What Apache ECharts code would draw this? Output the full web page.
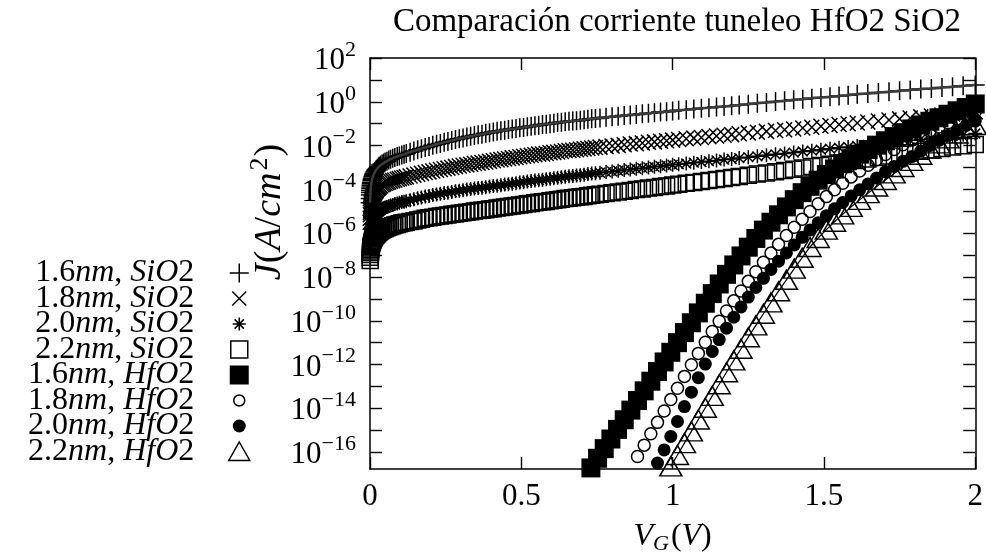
<!DOCTYPE html>
<html>
<head>
<meta charset="utf-8">
<script src="https://cdn.jsdelivr.net/npm/echarts@6/dist/echarts.min.js"></script>
<style>
  html, body { margin: 0; padding: 0; background: #fff; }
  #chart { width: 986px; height: 560px; }
</style>
</head>
<body>
<div id="chart"></div>
<script>
const FONT = '"Liberation Serif", "Times New Roman", serif';

const TITLE = 'Comparación corriente tuneleo HfO2 SiO2';

// Gate voltage sweep of the SiO2 simulations (V)
const V_SiO2 = [0.0005,0.0008,0.0012,0.0016,0.002,0.0025,0.003,0.0036,0.0043,0.005,0.006,0.007,0.008,0.0095,0.011,0.0125,0.014,0.016,0.018,0.02,0.022,0.025,0.028,0.031,0.035,0.04,
  0.045,0.05,0.056,0.062,0.068,0.075,0.082,0.09,0.097,0.105,0.1125,
  0.12,0.1325,0.145,0.1575,0.17,0.1825,0.195,0.2075,0.22,0.2325,0.245,0.2575,0.27,0.2825,0.295,0.3075,0.32,0.3325,0.345,0.3575,0.37,0.3825,0.395,0.4075,0.42,0.4325,0.445,0.4575,0.47,0.4825,0.495,0.5075,0.52,0.5325,0.545,0.5575,0.57,0.5825,0.595,0.6075,0.62,0.6325,0.645,0.6575,0.67,0.6825,0.695,0.7075,0.72,0.7325,0.745,
  0.76,0.78,0.8,0.82,0.84,0.86,0.88,0.9,0.92,0.94,0.96,0.98,1.0,1.02,1.045,1.07,1.095,1.12,1.145,1.17,1.195,
  1.22,1.25,1.28,1.31,1.34,1.37,1.4,1.43,1.46,1.49,1.52,1.55,1.58,1.61,
  1.645,1.68,1.715,1.75,1.785,1.82,1.855,1.89,1.925,1.96,2.0];

// log10 of the tunnelling current density J (A/cm^2), SiO2 oxides
const logJ_SiO2_16 = [-4.61,-4.42,-4.26,-4.14,-4.05,-3.96,-3.89,-3.81,-3.74,-3.68,-3.61,-3.54,-3.49,-3.42,-3.36,-3.31,-3.26,-3.21,-3.16,-3.12,-3.08,-3.03,-2.98,-2.94,-2.89,-2.84,
  -2.8,-2.75,-2.71,-2.66,-2.62,-2.58,-2.54,-2.5,-2.47,-2.43,-2.4,
  -2.36,-2.3,-2.25,-2.19,-2.14,-2.09,-2.04,-1.99,-1.94,-1.9,-1.85,-1.81,-1.77,-1.72,-1.69,-1.65,-1.61,-1.57,-1.54,-1.51,-1.48,-1.44,-1.41,-1.38,-1.35,-1.32,-1.3,-1.27,-1.24,-1.22,-1.19,-1.17,-1.14,-1.12,-1.09,-1.07,-1.04,-1.02,-1.0,-0.98,-0.95,-0.93,-0.91,-0.89,-0.88,-0.86,-0.84,-0.82,-0.8,-0.78,-0.76,
  -0.74,-0.71,-0.68,-0.66,-0.63,-0.6,-0.58,-0.55,-0.52,-0.5,-0.47,-0.45,-0.42,-0.39,-0.36,-0.33,-0.3,-0.27,-0.24,-0.21,-0.18,
  -0.15,-0.11,-0.07,-0.03,0.01,0.05,0.09,0.12,0.16,0.2,0.23,0.27,0.3,0.34,
  0.38,0.42,0.46,0.5,0.54,0.58,0.61,0.65,0.69,0.73,0.77];
const logJ_SiO2_18 = [-5.5,-5.32,-5.16,-5.05,-4.96,-4.87,-4.8,-4.73,-4.66,-4.6,-4.53,-4.47,-4.42,-4.35,-4.3,-4.25,-4.2,-4.15,-4.1,-4.06,-4.02,-3.97,-3.93,-3.89,-3.84,-3.79,
  -3.75,-3.72,-3.69,-3.66,-3.63,-3.6,-3.57,-3.54,-3.51,-3.48,-3.46,
  -3.43,-3.39,-3.35,-3.31,-3.27,-3.23,-3.2,-3.16,-3.13,-3.09,-3.06,-3.03,-3.0,-2.96,-2.93,-2.9,-2.88,-2.85,-2.82,-2.8,-2.77,-2.75,-2.72,-2.69,-2.66,-2.64,-2.61,-2.59,-2.56,-2.54,-2.51,-2.49,-2.46,-2.44,-2.42,-2.39,-2.38,-2.36,-2.33,-2.31,-2.29,-2.27,-2.24,-2.22,-2.21,-2.19,-2.17,-2.15,-2.13,-2.11,-2.09,
  -2.07,-2.04,-2.02,-1.99,-1.96,-1.93,-1.91,-1.88,-1.85,-1.83,-1.8,-1.78,-1.75,-1.72,-1.69,-1.66,-1.63,-1.59,-1.56,-1.53,-1.5,
  -1.46,-1.42,-1.39,-1.35,-1.31,-1.28,-1.24,-1.2,-1.16,-1.12,-1.08,-1.04,-1.0,-0.97,
  -0.92,-0.88,-0.83,-0.78,-0.74,-0.69,-0.65,-0.6,-0.56,-0.51,-0.46];
const logJ_SiO2_20 = [-6.6,-6.42,-6.26,-6.15,-6.06,-5.97,-5.9,-5.83,-5.76,-5.7,-5.63,-5.57,-5.52,-5.45,-5.4,-5.35,-5.3,-5.25,-5.2,-5.16,-5.12,-5.07,-5.03,-4.99,-4.94,-4.89,
  -4.86,-4.83,-4.8,-4.77,-4.74,-4.71,-4.67,-4.64,-4.61,-4.58,-4.56,
  -4.54,-4.5,-4.45,-4.41,-4.37,-4.33,-4.3,-4.26,-4.23,-4.2,-4.17,-4.15,-4.12,-4.09,-4.06,-4.04,-4.01,-3.98,-3.96,-3.94,-3.92,-3.9,-3.87,-3.85,-3.83,-3.81,-3.78,-3.76,-3.74,-3.72,-3.69,-3.67,-3.64,-3.62,-3.6,-3.58,-3.56,-3.54,-3.51,-3.49,-3.47,-3.45,-3.42,-3.4,-3.39,-3.37,-3.35,-3.33,-3.3,-3.28,-3.26,
  -3.24,-3.21,-3.18,-3.15,-3.12,-3.09,-3.06,-3.03,-3.0,-2.97,-2.94,-2.91,-2.88,-2.85,-2.82,-2.78,-2.75,-2.71,-2.68,-2.64,-2.61,
  -2.57,-2.53,-2.49,-2.44,-2.4,-2.36,-2.32,-2.27,-2.23,-2.19,-2.14,-2.1,-2.06,-2.02,
  -1.97,-1.91,-1.86,-1.81,-1.76,-1.71,-1.66,-1.61,-1.56,-1.51,-1.45];
const logJ_SiO2_22 = [-7.25,-7.1,-6.97,-6.88,-6.81,-6.74,-6.68,-6.62,-6.57,-6.52,-6.46,-6.41,-6.37,-6.32,-6.27,-6.23,-6.19,-6.15,-6.11,-6.08,-6.05,-6.01,-5.97,-5.94,-5.9,-5.86,
  -5.82,-5.79,-5.75,-5.72,-5.69,-5.66,-5.63,-5.6,-5.57,-5.54,-5.52,
  -5.5,-5.47,-5.44,-5.4,-5.36,-5.32,-5.29,-5.27,-5.24,-5.21,-5.19,-5.17,-5.14,-5.12,-5.09,-5.07,-5.04,-5.02,-4.99,-4.97,-4.95,-4.93,-4.9,-4.88,-4.85,-4.83,-4.8,-4.78,-4.76,-4.74,-4.71,-4.69,-4.66,-4.64,-4.61,-4.59,-4.57,-4.55,-4.52,-4.5,-4.47,-4.45,-4.42,-4.4,-4.38,-4.36,-4.34,-4.32,-4.29,-4.27,-4.25,
  -4.22,-4.19,-4.15,-4.12,-4.08,-4.05,-4.01,-3.98,-3.94,-3.91,-3.87,-3.84,-3.8,-3.77,-3.72,-3.68,-3.64,-3.59,-3.55,-3.5,-3.46,
  -3.41,-3.36,-3.3,-3.25,-3.19,-3.14,-3.08,-3.02,-2.96,-2.91,-2.85,-2.79,-2.73,-2.68,
  -2.61,-2.54,-2.47,-2.4,-2.33,-2.26,-2.2,-2.13,-2.07,-2.01,-1.95];

// Gate voltage sweep of the HfO2 simulations (V)
const V_HfO2 = [0.73,0.752,0.774,0.796,0.818,0.84,0.862,0.884,0.906,0.928,0.95,0.972,0.994,1.016,1.039,1.062,1.085,1.108,1.131,1.154,1.178,1.202,1.226,1.25,1.275,1.3,1.325,1.35,1.376,1.402,1.428,1.454,1.481,1.508,1.535,1.562,1.59,1.618,1.646,1.674,1.703,1.732,1.761,1.79,1.82,1.85,1.88,1.91,1.94,1.97,2.0];

// log10 J (A/cm^2), HfO2 oxides; null where the current lies below the plotted range
const logJ_HfO2_16 = [-16.72,-16.28,-15.84,-15.4,-14.96,-14.52,-14.08,-13.64,-13.2,-12.76,-12.32,-11.88,-11.44,-11.0,-10.54,-10.09,-9.64,-9.2,-8.76,-8.32,-7.88,-7.45,-7.04,-6.64,-6.24,-5.86,-5.5,-5.16,-4.8,-4.47,-4.15,-3.86,-3.58,-3.32,-3.07,-2.83,-2.6,-2.39,-2.18,-1.98,-1.78,-1.59,-1.41,-1.24,-1.06,-0.89,-0.73,-0.57,-0.41,-0.26,-0.1];
const logJ_HfO2_18 = [null,null,null,null,null,null,null,-16.2,-15.68,-15.16,-14.64,-14.12,-13.6,-13.08,-12.54,-12.01,-11.49,-10.98,-10.49,-10.02,-9.55,-9.09,-8.64,-8.2,-7.76,-7.33,-6.91,-6.51,-6.11,-5.73,-5.36,-5.01,-4.66,-4.33,-4.02,-3.72,-3.43,-3.16,-2.9,-2.65,-2.41,-2.18,-1.96,-1.75,-1.54,-1.34,-1.15,-0.96,-0.78,-0.61,-0.44];
const logJ_HfO2_20 = [null,null,null,null,null,null,null,null,null,null,-16.5,-15.9,-15.28,-14.6,-13.92,-13.26,-12.6,-11.98,-11.4,-10.86,-10.34,-9.84,-9.37,-8.92,-8.48,-8.06,-7.66,-7.28,-6.9,-6.54,-6.19,-5.85,-5.52,-5.2,-4.89,-4.6,-4.3,-4.02,-3.75,-3.48,-3.2,-2.95,-2.72,-2.5,-2.25,-2.0,-1.76,-1.53,-1.3,-1.08,-0.88];
const logJ_HfO2_22 = [null,null,null,null,null,null,null,null,null,null,null,null,-16.65,-16.13,-15.59,-15.05,-14.51,-13.97,-13.43,-12.9,-12.35,-11.81,-11.28,-10.75,-10.21,-9.68,-9.16,-8.65,-8.13,-7.62,-7.12,-6.63,-6.22,-5.84,-5.48,-5.14,-4.8,-4.48,-4.17,-3.87,-3.57,-3.27,-2.98,-2.7,-2.42,-2.14,-1.9,-1.67,-1.45,-1.25,-1.06];

// Series labels
const NAMES = ['1.6nm, SiO2','1.8nm, SiO2','2.0nm, SiO2','2.2nm, SiO2',
               '1.6nm, HfO2','1.8nm, HfO2','2.0nm, HfO2','2.2nm, HfO2'];

// Axis ranges and ticks
const X_TICKS = [0, 0.5, 1, 1.5, 2];
const Y_MIN = 1.7e-17, Y_MAX = 100;
const Y_TICK_EXP = [-16,-15,-14,-13,-12,-11,-10,-9,-8,-7,-6,-5,-4,-3,-2,-1,0,1,2];
const Y_LABEL_EXP = [-16,-14,-12,-10,-8,-6,-4,-2,0,2];

const toPoints = (v, logJ) => v.map((x, i) => logJ[i] == null ? null : [x, Math.pow(10, logJ[i])]).filter(p => p);

// Marker shapes (stroked paths for +, x and *)
const SYM_PLUS = 'path://M0,5L10,5M5,0L5,10';
const SYM_CROSS = 'path://M0,0L10,10M10,0L0,10';
const SYM_STAR = 'path://M0,5L10,5M5,0L5,10M1.5,1.5L8.5,8.5M8.5,1.5L1.5,8.5';

// Legend icons drawn inside a common 22x22 frame so each keeps its own size
const ICONS = [
  'path://M0,0M22,22M1.5,11L20.5,11M11,1.5L11,20.5',
  'path://M0,0M22,22M4,4L18,18M18,4L4,18',
  'path://M0,0M22,22M4.5,11L17.5,11M11,4.5L11,17.5M6.4,6.4L15.6,15.6M15.6,6.4L6.4,15.6',
  'path://M0,0M22,22M2.5,2.5L19.5,2.5L19.5,19.5L2.5,19.5Z',
  'path://M0,0M22,22M1.5,1.5L20.5,1.5L20.5,20.5L1.5,20.5Z',
  'path://M0,0M22,22M16.5,11A5.5,5.5,0,1,1,5.5,11A5.5,5.5,0,1,1,16.5,11Z',
  'path://M0,0M22,22M17.5,11A6.5,6.5,0,1,1,4.5,11A6.5,6.5,0,1,1,17.5,11Z',
  'path://M0,0M22,22M11,1.5L21.5,20L0.5,20Z'
];

const hollow = { color: 'rgba(0,0,0,0)', borderColor: '#000', borderWidth: 1.5, opacity: 1 };
const solid = { color: '#000', borderWidth: 0, opacity: 1 };

function markers(name, points, symbol, size, style) {
  return {
    name, type: 'scatter', data: points, symbol, symbolSize: size,
    itemStyle: style, emphasis: { disabled: true }, silent: true
  };
}
function trace(name, points, color, width) {
  return {
    name, type: 'line', data: points, symbol: 'none', showSymbol: false,
    lineStyle: { color, width }, emphasis: { disabled: true }, silent: true
  };
}

const pS16 = toPoints(V_SiO2, logJ_SiO2_16);
const pS18 = toPoints(V_SiO2, logJ_SiO2_18);
const pS20 = toPoints(V_SiO2, logJ_SiO2_20);
const pS22 = toPoints(V_SiO2, logJ_SiO2_22);
const pH16 = toPoints(V_HfO2, logJ_HfO2_16);
const pH18 = toPoints(V_HfO2, logJ_HfO2_18);
const pH20 = toPoints(V_HfO2, logJ_HfO2_20);
const pH22 = toPoints(V_HfO2, logJ_HfO2_22);

const supLabel = v => {
  const e = Math.round(Math.log10(v));
  return '{b|10}{e|' + (e < 0 ? '\u2212' : '') + Math.abs(e) + '}';
};
const labelRich = {
  b: { fontFamily: FONT, fontSize: 31, color: '#000', lineHeight: 34, padding: [6, 0, 0, 0] },
  e: { fontFamily: FONT, fontSize: 22, color: '#000', lineHeight: 22, padding: [0, 0, 16, 0] }
};
const axisLine = { show: true, onZero: false, lineStyle: { color: '#000', width: 1.5 } };
const tickStyle = { color: '#000', width: 1.4 };

const legendFormatter = name => {
  const [th, mat] = name.split(', ');
  return '{n|' + th.replace('nm', '') + '}{i|nm}{n|, }{i|' + mat.slice(0, -1) + '}{z|2}';
};

const option = {
  animation: false,
  backgroundColor: '#fff',
  textStyle: { fontFamily: FONT },
  title: {
    text: TITLE, left: 672, top: 1, textAlign: 'center',
    textStyle: { fontFamily: FONT, fontSize: 33, fontWeight: 'normal', color: '#000' }
  },
  grid: { left: 370, right: 8, top: 58, bottom: 88, containLabel: false },
  xAxis: [
    {
      type: 'value', position: 'bottom', min: X_TICKS[0], max: X_TICKS[X_TICKS.length - 1], interval: 0.5,
      name: '{i|V}{g|G}{n|(}{i|V}{n|)}', nameLocation: 'middle', nameGap: 50,
      nameTextStyle: { rich: {
        i: { fontFamily: FONT, fontSize: 32, fontStyle: 'italic', color: '#000' },
        n: { fontFamily: FONT, fontSize: 32, color: '#000' },
        g: { fontFamily: FONT, fontSize: 22, fontStyle: 'italic', color: '#000', padding: [14, 2, 0, 0] }
      } },
      axisLine, axisTick: { inside: true, length: 12, lineStyle: tickStyle },
      axisLabel: { margin: 12, fontFamily: FONT, fontSize: 31, color: '#000', formatter: v => String(v) },
      splitLine: { show: false }
    },
    {
      type: 'value', position: 'top', min: X_TICKS[0], max: X_TICKS[X_TICKS.length - 1], interval: 0.5,
      axisLine, axisTick: { inside: true, length: 12, lineStyle: tickStyle },
      axisLabel: { show: false }, splitLine: { show: false }
    }
  ],
  yAxis: [
    {
      type: 'log', logBase: 10, min: Y_MIN, max: Y_MAX, position: 'left',
      axisLine,
      axisTick: { inside: true, length: 12, lineStyle: tickStyle, customValues: Y_TICK_EXP.map(e => Math.pow(10, e)) },
      axisLabel: { margin: 14, formatter: supLabel, rich: labelRich, customValues: Y_LABEL_EXP.map(e => Math.pow(10, e)) },
      splitLine: { show: false }, minorTick: { show: false }
    },
    {
      type: 'log', logBase: 10, min: Y_MIN, max: Y_MAX, position: 'right',
      axisLine,
      axisTick: { inside: true, length: 12, lineStyle: tickStyle, customValues: Y_TICK_EXP.map(e => Math.pow(10, e)) },
      axisLabel: { show: false }, splitLine: { show: false }, minorTick: { show: false }
    }
  ],
  legend: {
    orient: 'vertical', align: 'right', right: 735, top: 257, padding: 0,
    itemWidth: 22, itemHeight: 22, itemGap: -6.5, selectedMode: false,
    itemStyle: { borderWidth: 1.5 },
    data: NAMES.map((name, i) => ({ name, icon: ICONS[i] })),
    formatter: legendFormatter,
    textStyle: { rich: {
      n: { fontFamily: FONT, fontSize: 32, color: '#000', lineHeight: 22 },
      i: { fontFamily: FONT, fontSize: 32, fontStyle: 'italic', color: '#000', lineHeight: 22 },
      z: { fontFamily: FONT, fontSize: 32, color: '#000', lineHeight: 22, padding: [0, 29, 0, 0] }
    } }
  },
  graphic: [{
    type: 'text', x: 270, y: 212, rotation: Math.PI / 2, silent: true,
    style: {
      text: '{i|J}{n|(}{i|A}{n|/}{i|cm}{s|2}{n|)}', align: 'center', verticalAlign: 'middle',
      rich: {
        i: { fontFamily: FONT, fontSize: 38, fontStyle: 'italic', fill: '#000' },
        n: { fontFamily: FONT, fontSize: 38, fill: '#000' },
        s: { fontFamily: FONT, fontSize: 26, fill: '#000', padding: [0, 1, 20, 2] }
      }
    }
  }],
  series: [
    markers(NAMES[0], pS16, SYM_PLUS, 19, hollow),
    trace('1.6nm SiO2 curve', pS16, '#3c3c3c', 2.5),
    markers(NAMES[1], pS18, SYM_CROSS, 15, hollow),
    markers(NAMES[2], pS20, SYM_STAR, 14, hollow),
    markers(NAMES[3], pS22, 'rect', 16, hollow),
    markers(NAMES[4], pH16, 'rect', 19, solid),
    markers(NAMES[5], pH18, 'circle', 12, hollow),
    markers(NAMES[6], pH20, 'circle', 13, solid),
    markers(NAMES[7], pH22, 'triangle', [22, 19], hollow),
    trace('2.2nm HfO2 curve', pH22, '#000', 1.2)
  ]
};

const chart = echarts.init(document.getElementById('chart'), null, { renderer: 'canvas' });
chart.setOption(option);
</script>
</body>
</html>
